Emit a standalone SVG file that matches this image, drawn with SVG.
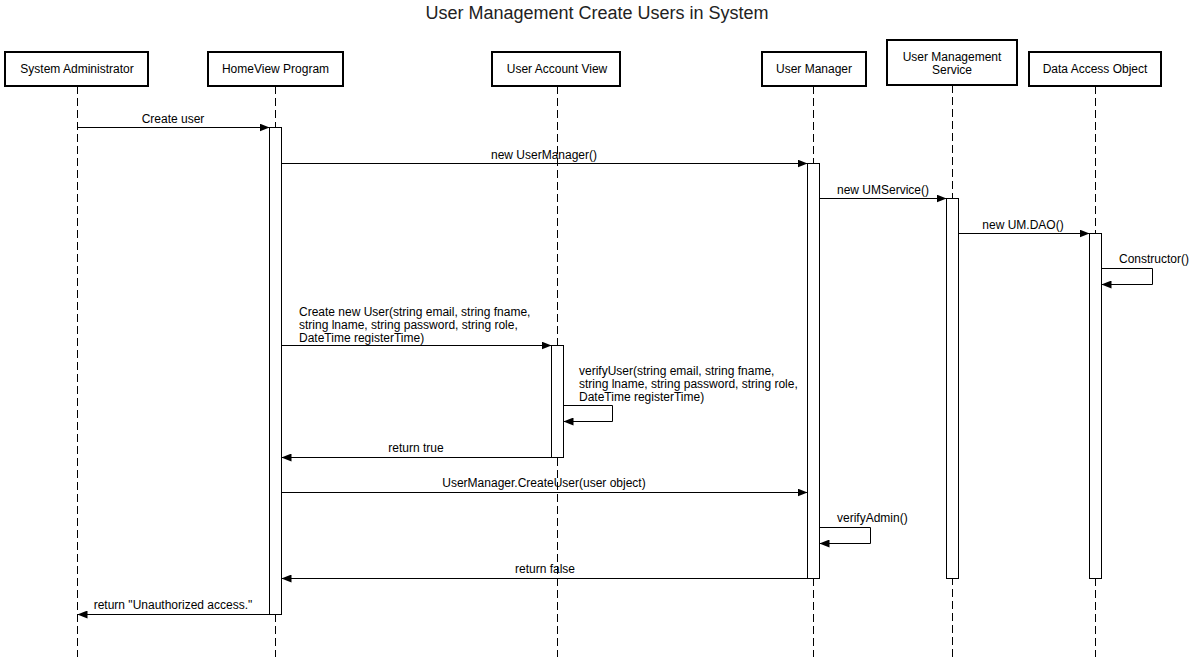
<svg xmlns="http://www.w3.org/2000/svg" width="1194" height="657" viewBox="0 0 1194 657">
<style>
text{font-family:"Liberation Sans",Arial,sans-serif;font-size:12px;fill:#000}
.title{font-size:18px;fill:#222}
.hdr{fill:#fff;stroke:#000;stroke-width:2}
.life{stroke:#000;stroke-width:1;stroke-dasharray:8 4;fill:none}
.act{fill:#fff;stroke:#000;stroke-width:1}
.msg{stroke:#000;stroke-width:1;fill:none;marker-end:url(#arr)}
</style>
<defs>
<marker id="arr" viewBox="0 0 10 8" refX="10" refY="4" markerWidth="10" markerHeight="8" markerUnits="userSpaceOnUse" orient="auto">
<path d="M0,0 L10,4 L0,8 Z" fill="#000"/>
</marker>
</defs>
<rect width="1194" height="657" fill="#fff"/>
<text class="title" x="597" y="19" text-anchor="middle">User Management Create Users in System</text>

<g id="lifelines">
<line class="life" x1="77.5" y1="86" x2="77.5" y2="657"/>
<line class="life" x1="275.5" y1="86" x2="275.5" y2="657"/>
<line class="life" x1="557.5" y1="86" x2="557.5" y2="657"/>
<line class="life" x1="813.5" y1="86" x2="813.5" y2="657"/>
<line class="life" x1="952.5" y1="85" x2="952.5" y2="657"/>
<line class="life" x1="1095.5" y1="86" x2="1095.5" y2="657"/>
</g>

<g id="sysadmin">
<rect class="hdr" x="5" y="52" width="143" height="34"/>
<text x="77" y="73" text-anchor="middle">System Administrator</text>
</g>
<g id="homeview">
<rect class="hdr" x="208" y="52" width="135" height="34"/>
<text x="275.5" y="73" text-anchor="middle">HomeView Program</text>
<rect class="act" x="269.5" y="127.5" width="12" height="487"/>
</g>
<g id="useraccountview">
<rect class="hdr" x="492" y="52" width="128" height="34"/>
<text x="557" y="73" text-anchor="middle">User Account View</text>
<rect class="act" x="551.5" y="345.5" width="12" height="112"/>
</g>
<g id="usermanager">
<rect class="hdr" x="762" y="52" width="104" height="34"/>
<text x="814" y="73" text-anchor="middle">User Manager</text>
<rect class="act" x="807.5" y="163.5" width="12" height="415"/>
</g>
<g id="umservice">
<rect class="hdr" x="887" y="40" width="130" height="45"/>
<text x="952" y="61" text-anchor="middle">User Management</text>
<text x="952" y="74" text-anchor="middle">Service</text>
<rect class="act" x="946.5" y="198.5" width="12" height="380"/>
</g>
<g id="dao">
<rect class="hdr" x="1029" y="52" width="132" height="34"/>
<text x="1095" y="73" text-anchor="middle">Data Access Object</text>
<rect class="act" x="1089.5" y="233.5" width="12" height="345"/>
</g>

<g id="connectors">
<line class="msg" x1="77.5" y1="127.5" x2="269.5" y2="127.5"/>
<text x="173" y="123" text-anchor="middle">Create user</text>

<line class="msg" x1="281.5" y1="163.5" x2="807.5" y2="163.5"/>
<text x="544" y="159" text-anchor="middle">new UserManager()</text>

<line class="msg" x1="819.5" y1="198.5" x2="946.5" y2="198.5"/>
<text x="883" y="194" text-anchor="middle">new UMService()</text>

<line class="msg" x1="958.5" y1="233.5" x2="1089.5" y2="233.5"/>
<text x="1023" y="229" text-anchor="middle">new UM.DAO()</text>

<path class="msg" d="M1101.5,268.5 H1152.5 V284.5 H1101.5"/>
<text x="1119" y="263">Constructor()</text>

<line class="msg" x1="281.5" y1="345.5" x2="551.5" y2="345.5"/>
<text x="299" y="316">Create new User(string email, string fname,</text>
<text x="299" y="329">string lname, string password, string role,</text>
<text x="299" y="342">DateTime registerTime)</text>

<path class="msg" d="M563.5,405.5 H612.5 V421.5 H563.5"/>
<text x="579" y="375">verifyUser(string email, string fname,</text>
<text x="579" y="388">string lname, string password, string role,</text>
<text x="579" y="401">DateTime registerTime)</text>

<line class="msg" x1="551.5" y1="457.5" x2="281.5" y2="457.5"/>
<text x="416" y="452" text-anchor="middle">return true</text>

<line class="msg" x1="281.5" y1="492.5" x2="807.5" y2="492.5"/>
<text x="544" y="487" text-anchor="middle">UserManager.CreateUser(user object)</text>

<path class="msg" d="M819.5,527.5 H870.5 V543.5 H819.5"/>
<text x="837" y="522">verifyAdmin()</text>

<line class="msg" x1="807.5" y1="578.5" x2="281.5" y2="578.5"/>
<text x="545" y="573" text-anchor="middle">return false</text>

<line class="msg" x1="269.5" y1="614.5" x2="77.5" y2="614.5"/>
<text x="173" y="609" text-anchor="middle">return "Unauthorized access."</text>
</g>
</svg>
